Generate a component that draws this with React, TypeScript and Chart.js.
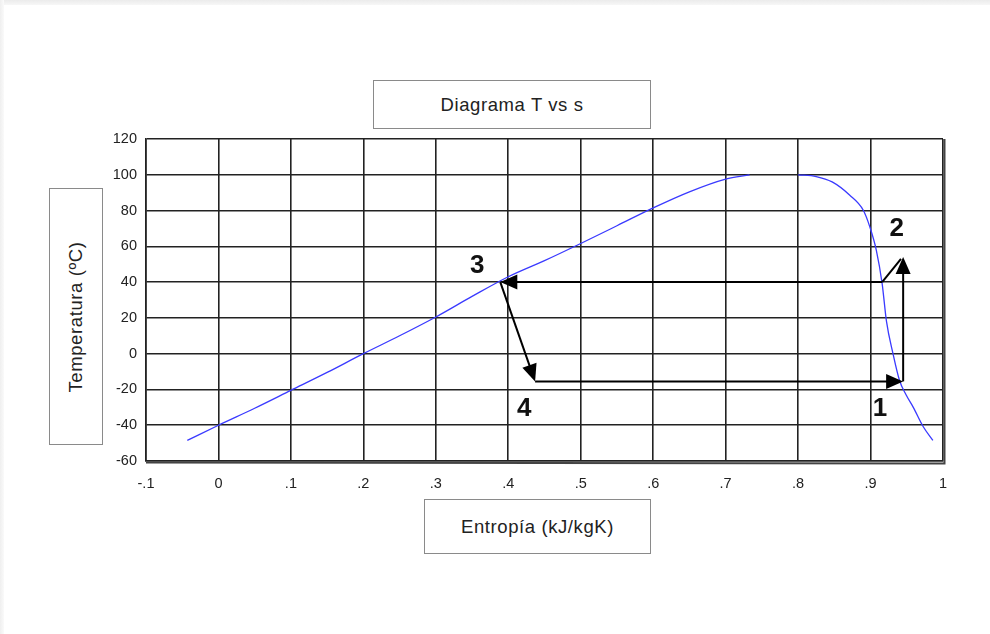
import React, { useEffect, useRef } from "react";
import { Chart, registerables } from "chart.js";

Chart.register(...registerables);

// Saturation dome, liquid side (entropy kJ/kgK, temperature ºC)
const liquidS = [-0.043, 0, 0.05, 0.1, 0.15, 0.2, 0.25, 0.3, 0.35, 0.4, 0.45, 0.5, 0.55, 0.6, 0.65, 0.7, 0.733];
const liquidT = [-48.5, -40, -30.5, -20.5, -10.5, 0, 10, 20.5, 32, 43, 52, 61.6, 71.5, 81.5, 90.5, 97.6, 100];
// Saturation dome, vapour side
const vaporS = [0.8, 0.825, 0.847, 0.871, 0.89, 0.899, 0.908, 0.916, 0.922, 0.931, 0.94, 0.949, 0.959, 0.973, 0.986];
const vaporT = [100, 99, 96, 88.7, 80.2, 70.9, 57.8, 39.2, 18, 0, -15, -23, -30, -41, -48.5];

// Cycle arrows
const arrowFromS = [0.916, 0.389, 0.437, 0.945, 0.916];
const arrowFromT = [40, 40, -15.5, -15.5, 40];
const arrowToS = [0.389, 0.437, 0.945, 0.945, 0.942];
const arrowToT = [40, -15.5, -15.5, 54, 53];
const arrowHead = [true, true, true, true, false];

// State point labels
const stateLabels = ["1", "2", "3", "4"];
const stateS = [0.913, 0.936, 0.357, 0.422];
const stateT = [-30.6, 69.6, 48.9, -30.6];

const xTickValues = [-0.1, 0, 0.1, 0.2, 0.3, 0.4, 0.5, 0.6, 0.7, 0.8, 0.9, 1];
const xTickLabels = ["-.1", "0", ".1", ".2", ".3", ".4", ".5", ".6", ".7", ".8", ".9", "1"];
const yTickValues = [-60, -40, -20, 0, 20, 40, 60, 80, 100, 120];

const titleText = "Diagrama T vs s";
const xTitle = "Entropía (kJ/kgK)";
const yTitle = "Temperatura (ºC)";

const FONT = "'Liberation Sans', Arial, Helvetica, sans-serif";

const cyclePlugin = {
  id: "cycle",
  afterDatasetsDraw(chart: any) {
    const { ctx, scales, chartArea } = chart;
    const xs = scales.x;
    const ys = scales.y;
    ctx.save();
    // heavier right/bottom frame
    ctx.strokeStyle = "#444";
    ctx.lineWidth = 2;
    ctx.beginPath();
    ctx.moveTo(chartArea.right + 1.5, chartArea.top);
    ctx.lineTo(chartArea.right + 1.5, chartArea.bottom + 2.5);
    ctx.lineTo(chartArea.left, chartArea.bottom + 1.5);
    ctx.stroke();

    ctx.strokeStyle = "#000";
    ctx.fillStyle = "#000";
    ctx.lineWidth = 2;
    for (let i = 0; i < arrowFromS.length; i++) {
      const x0 = xs.getPixelForValue(arrowFromS[i]);
      const y0 = ys.getPixelForValue(arrowFromT[i]);
      const x1 = xs.getPixelForValue(arrowToS[i]);
      const y1 = ys.getPixelForValue(arrowToT[i]);
      const ang = Math.atan2(y1 - y0, x1 - x0);
      const len = 17;
      const half = 7.5;
      const hasHead = arrowHead[i];
      const ex = hasHead ? x1 - Math.cos(ang) * len * 0.8 : x1;
      const ey = hasHead ? y1 - Math.sin(ang) * len * 0.8 : y1;
      ctx.beginPath();
      ctx.moveTo(x0, y0);
      ctx.lineTo(ex, ey);
      ctx.stroke();
      if (hasHead) {
        const bx = x1 - Math.cos(ang) * len;
        const by = y1 - Math.sin(ang) * len;
        ctx.beginPath();
        ctx.moveTo(x1, y1);
        ctx.lineTo(bx + Math.sin(ang) * half, by - Math.cos(ang) * half);
        ctx.lineTo(bx - Math.sin(ang) * half, by + Math.cos(ang) * half);
        ctx.closePath();
        ctx.fill();
      }
    }

    ctx.fillStyle = "#111";
    ctx.font = `bold 26px ${FONT}`;
    ctx.textAlign = "center";
    ctx.textBaseline = "middle";
    for (let i = 0; i < stateLabels.length; i++) {
      ctx.fillText(stateLabels[i], xs.getPixelForValue(stateS[i]), ys.getPixelForValue(stateT[i]));
    }
    ctx.restore();
  },
};

export default function App() {
  const ref = useRef<HTMLCanvasElement | null>(null);

  useEffect(() => {
    document.body.style.margin = "0";
    document.body.style.background = "#fff";
    if (!ref.current) return;
    const chart = new Chart(ref.current, {
      type: "scatter",
      data: {
        datasets: [
          {
            data: liquidS.map((s, i) => ({ x: s, y: liquidT[i] })),
            showLine: true,
            borderColor: "#3a3aff",
            borderWidth: 1.3,
            pointRadius: 0,
            cubicInterpolationMode: "monotone",
          },
          {
            data: vaporS.map((s, i) => ({ x: s, y: vaporT[i] })),
            showLine: true,
            borderColor: "#3a3aff",
            borderWidth: 1.3,
            pointRadius: 0,
            cubicInterpolationMode: "monotone",
          },
        ],
      },
      options: {
        animation: false,
        responsive: false,
        maintainAspectRatio: false,
        layout: { padding: { top: 139, right: 47, left: 0, bottom: 0 } },
        plugins: {
          legend: { display: false },
          tooltip: { enabled: false },
          title: { display: false },
        },
        scales: {
          x: {
            type: "linear",
            min: -0.1,
            max: 1,
            afterBuildTicks: (scale: any) => {
              scale.ticks = xTickValues.map((v) => ({ value: v }));
            },
            afterFit: (scale: any) => {
              scale.height = 173;
            },
            ticks: {
              autoSkip: false,
              maxRotation: 0,
              padding: 14,
              color: "#222",
              font: { family: FONT, size: 14.5 },
              callback: (_v: any, i: number) => xTickLabels[i],
            },
            grid: { color: "#222", lineWidth: 1.6, drawTicks: false },
            border: { display: true, color: "#222", width: 1.6 },
          },
          y: {
            type: "linear",
            min: -60,
            max: 120,
            afterBuildTicks: (scale: any) => {
              scale.ticks = yTickValues.map((v) => ({ value: v }));
            },
            afterFit: (scale: any) => {
              scale.width = 146;
            },
            ticks: {
              autoSkip: false,
              padding: 9,
              color: "#222",
              font: { family: FONT, size: 14.5 },
              callback: (v: any) => String(v),
            },
            grid: { color: "#222", lineWidth: 1.6, drawTicks: false },
            border: { display: true, color: "#222", width: 1.6 },
          },
        },
      },
      plugins: [cyclePlugin],
    } as any);
    return () => chart.destroy();
  }, []);

  const boxStyle: React.CSSProperties = {
    position: "absolute",
    boxSizing: "border-box",
    border: "1px solid #8a8a8a",
    background: "#fff",
    display: "flex",
    alignItems: "center",
    justifyContent: "center",
    fontFamily: FONT,
    fontSize: 18.5,
    letterSpacing: "0.6px",
    color: "#222",
    whiteSpace: "nowrap",
  };

  return (
    <div style={{ position: "relative", width: 990, height: 634, overflow: "hidden", background: "#fff" }}>
      <div style={{ position: "absolute", left: 0, top: 0, width: 990, height: 5, background: "linear-gradient(#ebebeb, #f7f7f7)" }} />
      <div style={{ position: "absolute", left: 0, top: 0, width: 4, height: 634, background: "linear-gradient(90deg, #efefef, #fafafa)" }} />
      <canvas ref={ref} width={990} height={634} style={{ position: "absolute", left: 0, top: 0, width: 990, height: 634 }} />
      <div style={{ ...boxStyle, left: 373, top: 80, width: 278, height: 49 }}>{titleText}</div>
      <div style={{ ...boxStyle, left: 49, top: 188, width: 54, height: 257 }}>
        <span style={{ transform: "rotate(-90deg)", display: "inline-block" }}>{yTitle}</span>
      </div>
      <div style={{ ...boxStyle, left: 424, top: 499, width: 227, height: 55 }}>{xTitle}</div>
    </div>
  );
}
